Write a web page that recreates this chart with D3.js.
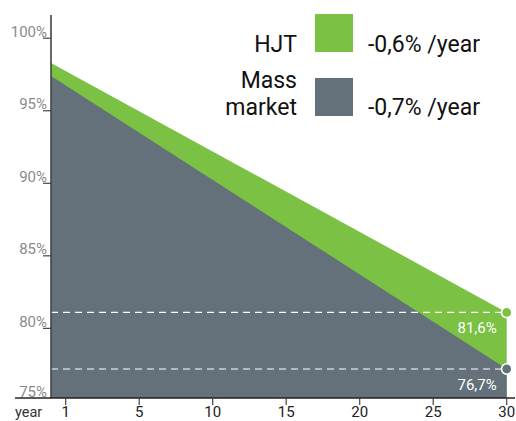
<!DOCTYPE html>
<html>
<head>
<meta charset="utf-8">
<script src="https://cdn.jsdelivr.net/npm/d3@7"></script>
<style>
  body { margin: 0; background: #fff; }
  svg { display: block; font-family: Roboto, "DejaVu Sans", sans-serif; }
</style>
</head>
<body>
<div id="chart"></div>
<script>
// data
const years = [-1, 30]; // -1 = left edge at the axis, tick "1" sits at index 0
const hjtValues = [98.3, 81.1];
const massValues = [97.4, 77.2];
const endLabels = ["81,6%", "76,7%"];
const yTicks = [75, 80, 85, 90, 95, 100];
const xTickVals = [0, 5, 10, 15, 20, 25, 30];
const xTickLabels = ["1", "5", "10", "15", "20", "25", "30"];
const seriesNames = ["HJT", "Mass market"];
const seriesRates = ["-0,6% /year", "-0,7% /year"];
const colors = ["#7bc143", "#64717a"];

const w = 516, h = 421;
const svg = d3.select("#chart").append("svg").attr("width", w).attr("height", h);

// scales
const x = d3.scaleLinear().domain([-1, 30]).range([51, 506.7]);
const y = d3.scaleLinear().domain([75.2, 101.6]).range([398, 15]);

const hjt = years.map((d, i) => ({ yr: d, v: hjtValues[i] }));
const mass = years.map((d, i) => ({ yr: d, v: massValues[i] }));

const area = d3.area()
  .x(d => x(d.yr))
  .y0(y(75.2))
  .y1(d => y(d.v));

svg.append("path").datum(hjt).attr("fill", colors[0]).attr("d", area);
svg.append("path").datum(mass).attr("fill", colors[1]).attr("d", area);

// dashed lines to the end values
const ends = [hjt[1].v, mass[1].v];
svg.selectAll(".dash").data(ends).enter().append("line")
  .attr("x1", x(-1)).attr("x2", x(30))
  .attr("y1", d => y(d)).attr("y2", d => y(d))
  .attr("stroke", "#fff").attr("stroke-width", 1.2)
  .attr("stroke-dasharray", "7,5");

svg.selectAll(".endLabel").data(ends).enter().append("text")
  .attr("x", x(30) - 10)
  .attr("y", d => y(d) + 21)
  .attr("text-anchor", "end")
  .attr("fill", "#fff")
  .attr("font-size", 15)
  .text((d, i) => endLabels[i]);

svg.selectAll(".dot").data(ends).enter().append("circle")
  .attr("cx", x(30)).attr("cy", d => y(d)).attr("r", 5.2)
  .attr("fill", (d, i) => colors[i])
  .attr("stroke", "#fff").attr("stroke-width", 1.6);

// y axis
svg.append("line").attr("x1", 51).attr("x2", 51).attr("y1", 15).attr("y2", 398)
  .attr("stroke", "#444").attr("stroke-width", 1.6);
const yAx = svg.append("g");
yAx.selectAll("line").data(yTicks.filter(d => d > 75)).enter().append("line")
  .attr("x1", 43).attr("x2", 51)
  .attr("y1", d => y(d)).attr("y2", d => y(d))
  .attr("stroke", "#444").attr("stroke-width", 1.2);
yAx.selectAll("text").data(yTicks).enter().append("text")
  .attr("x", 47)
  .attr("y", d => Math.min(y(d), 398) - 1.5)
  .attr("text-anchor", "end")
  .attr("fill", "#8a8a8a")
  .attr("font-size", 15)
  .text(d => d + "%");

// x axis
svg.append("line").attr("x1", 15).attr("x2", 515).attr("y1", 398).attr("y2", 398)
  .attr("stroke", "#222").attr("stroke-width", 1.4);
const xAx = svg.append("g");
xAx.selectAll("line").data(xTickVals).enter().append("line")
  .attr("x1", d => x(d)).attr("x2", d => x(d))
  .attr("y1", 398).attr("y2", 405)
  .attr("stroke", "#444").attr("stroke-width", 1.2);
xAx.selectAll("text").data(xTickVals).enter().append("text")
  .attr("x", d => x(d))
  .attr("y", 417)
  .attr("text-anchor", "middle")
  .attr("fill", "#222")
  .attr("font-size", 15)
  .text((d, i) => xTickLabels[i]);
svg.append("text").attr("x", 15).attr("y", 417)
  .attr("fill", "#333").attr("font-size", 14.5).text("year");

// legend
const lg = svg.append("g");
[14, 78].forEach((top, i) => {
  lg.append("rect").attr("x", 315).attr("y", top).attr("width", 38).attr("height", 38)
    .attr("fill", colors[i]);
});
lg.append("text").attr("x", 297).attr("y", 52).attr("text-anchor", "end")
  .attr("font-size", 23).attr("fill", "#111").text(seriesNames[0]);
const mm = seriesNames[1].split(" ");
lg.append("text").attr("x", 297).attr("y", 88).attr("text-anchor", "end")
  .attr("font-size", 23).attr("fill", "#111").text(mm[0]);
lg.append("text").attr("x", 297).attr("y", 115).attr("text-anchor", "end")
  .attr("font-size", 23).attr("fill", "#111").text(mm[1]);
lg.append("text").attr("x", 368).attr("y", 52)
  .attr("font-size", 23).attr("fill", "#111").text(seriesRates[0]);
lg.append("text").attr("x", 368).attr("y", 115)
  .attr("font-size", 23).attr("fill", "#111").text(seriesRates[1]);
</script>
</body>
</html>
